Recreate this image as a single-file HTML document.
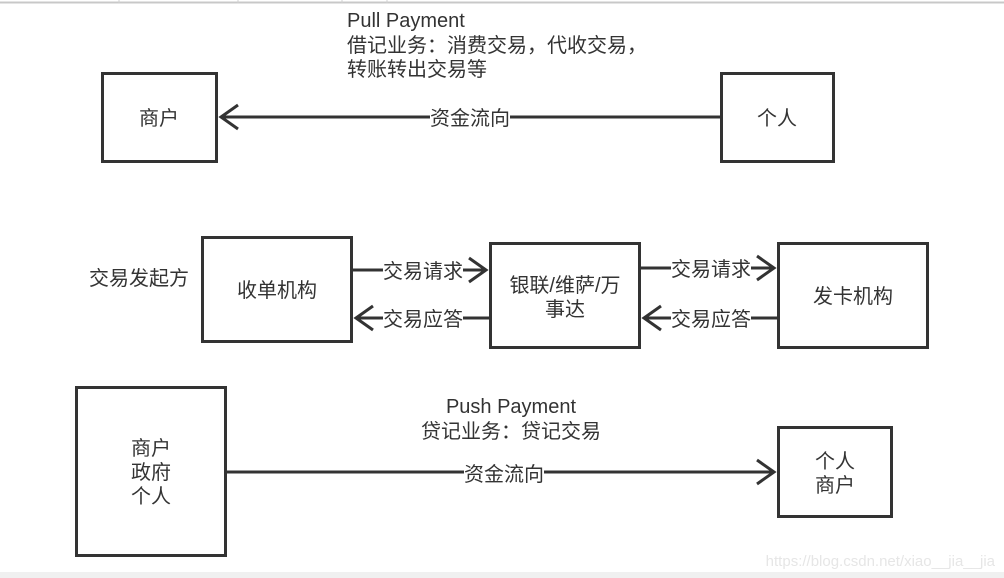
<!DOCTYPE html>
<html><head><meta charset="utf-8"><style>
html,body{margin:0;padding:0;background:#fff}
svg{display:block}
text{font-family:"Liberation Sans","Noto Sans CJK SC",sans-serif;fill:#333;font-size:20px}
</style></head><body>
<svg width="1004" height="578" viewBox="0 0 1004 578" xmlns="http://www.w3.org/2000/svg">
<rect x="0" y="0" width="1004" height="578" fill="#fff"/>
<line x1="0" y1="2.5" x2="1004" y2="2.5" stroke="#c8c8c8" stroke-width="2"/>
<g stroke="#d0d0d0" stroke-width="1"><line x1="119" y1="0" x2="119" y2="3"/><line x1="238" y1="0" x2="238" y2="3"/><line x1="342" y1="0" x2="342" y2="3"/><line x1="387" y1="0" x2="387" y2="3"/></g>
<rect x="0" y="572" width="1004" height="6" fill="#f0f0f0"/>
<g fill="none" stroke="#333" stroke-width="3">
<rect x="102.5" y="73.5" width="114" height="88"/>
<rect x="721.5" y="73.5" width="112" height="88"/>
<rect x="202.5" y="237.5" width="149" height="104"/>
<rect x="490.5" y="243.5" width="149" height="104"/>
<rect x="778.5" y="243.5" width="149" height="104"/>
<rect x="76.5" y="387.5" width="149" height="168"/>
<rect x="778.5" y="427.5" width="113" height="89"/>
<line x1="720" y1="117" x2="221" y2="117"/><polyline points="238,105 221,117 238,129"/>
<line x1="352" y1="270" x2="486" y2="270"/><polyline points="469,258 486,270 469,282"/>
<line x1="489" y1="318" x2="356" y2="318"/><polyline points="373,306 356,318 373,330"/>
<line x1="640" y1="268" x2="774" y2="268"/><polyline points="757,256 774,268 757,280"/>
<line x1="778" y1="318" x2="644" y2="318"/><polyline points="661,306 644,318 661,330"/>
<line x1="226" y1="472" x2="774" y2="472"/><polyline points="757,460 774,472 757,484"/>
</g>
<g fill="#fff">
<rect x="430" y="106" width="80" height="22"/>
<rect x="383" y="259" width="80" height="22"/>
<rect x="383" y="307" width="80" height="22"/>
<rect x="671" y="257" width="80" height="22"/>
<rect x="671" y="307" width="80" height="22"/>
<rect x="464" y="461" width="80" height="22"/>
</g>
<text x="347" y="27">Pull Payment</text>
<text x="347" y="52">借记业务：消费交易，代收交易，</text>
<text x="347" y="76">转账转出交易等</text>
<text x="159" y="125" text-anchor="middle">商户</text>
<text x="777" y="125" text-anchor="middle">个人</text>
<text x="470" y="125" text-anchor="middle">资金流向</text>
<text x="139" y="285" text-anchor="middle">交易发起方</text>
<text x="277" y="297" text-anchor="middle">收单机构</text>
<text x="565" y="292" text-anchor="middle">银联/维萨/万</text>
<text x="565" y="316" text-anchor="middle">事达</text>
<text x="853" y="303" text-anchor="middle">发卡机构</text>
<text x="423" y="278" text-anchor="middle">交易请求</text>
<text x="423" y="326" text-anchor="middle">交易应答</text>
<text x="711" y="276" text-anchor="middle">交易请求</text>
<text x="711" y="326" text-anchor="middle">交易应答</text>
<text x="511" y="413" text-anchor="middle">Push Payment</text>
<text x="511" y="438" text-anchor="middle">贷记业务：贷记交易</text>
<text x="504" y="481" text-anchor="middle">资金流向</text>
<text x="151" y="455" text-anchor="middle">商户</text>
<text x="151" y="479" text-anchor="middle">政府</text>
<text x="151" y="503" text-anchor="middle">个人</text>
<text x="835" y="468" text-anchor="middle">个人</text>
<text x="835" y="492" text-anchor="middle">商户</text>
<text x="995" y="566" text-anchor="end" style="fill:#e6e6e6;font-size:15px">https://blog.csdn.net/xiao__jia__jia</text>
</svg>
</body></html>
